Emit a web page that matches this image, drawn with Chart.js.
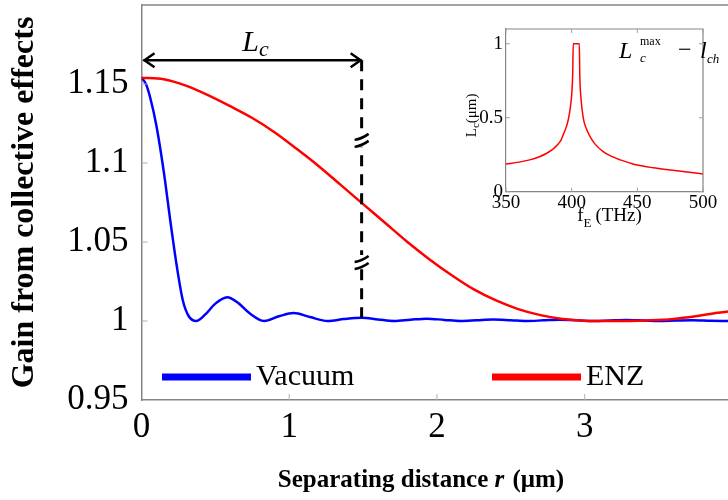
<!DOCTYPE html>
<html><head><meta charset="utf-8">
<script src="https://cdn.jsdelivr.net/npm/chart.js@4.4.0/dist/chart.umd.min.js"></script>
<style>
html,body{margin:0;padding:0;background:#fff;}
#wrap{position:relative;width:728px;height:500px;overflow:hidden;background:#fff;}
#main{position:absolute;left:0;top:0;}
#inset{position:absolute;left:455px;top:22px;}
</style></head><body>
<div id="wrap"><canvas id="main" width="728" height="500"></canvas><canvas id="inset" width="273" height="205"></canvas></div>
<script>
// ---- main plot data ----
const vacuumR    = [0, 0.03, 0.06, 0.1, 0.15, 0.2, 0.24, 0.28, 0.32, 0.37, 0.43, 0.5, 0.58, 0.66, 0.73, 0.83, 0.93, 1.03, 1.14, 1.26, 1.37, 1.49, 1.6, 1.71, 1.82, 1.93, 2.05, 2.16, 2.27, 2.38, 2.5, 2.61, 2.72, 2.83, 2.95, 3.06, 3.17, 3.28, 3.4, 3.5, 3.62, 3.73, 3.85, 3.97];
const vacuumGain = [1.154, 1.150, 1.141, 1.124, 1.095, 1.060, 1.034, 1.013, 1.003, 1.000, 1.004, 1.011, 1.015, 1.011, 1.005, 1.000, 1.003, 1.005, 1.0025, 1.000, 1.0012, 1.002, 1.001, 1.000, 1.0008, 1.0015, 1.0007, 1.000, 1.0005, 1.001, 1.0005, 1.000, 1.0004, 1.0008, 1.0004, 1.000, 1.0003, 1.0006, 1.0003, 1.000, 1.0003, 1.0005, 1.0002, 1.000];
const enzR    = [0, 0.15, 0.3, 0.45, 0.6, 0.75, 0.9, 1.05, 1.2, 1.35, 1.5, 1.65, 1.8, 1.95, 2.1, 2.25, 2.4, 2.55, 2.7, 2.85, 3.0, 3.15, 3.3, 3.45, 3.6, 3.75, 3.9, 3.97];
const enzGain = [1.154, 1.153, 1.149, 1.143, 1.136, 1.1285, 1.1195, 1.109, 1.098, 1.086, 1.074, 1.062, 1.050, 1.039, 1.029, 1.020, 1.013, 1.0075, 1.0037, 1.0013, 1.0002, 1.0, 1.0, 1.0004, 1.0013, 1.003, 1.0052, 1.006];
const xTicks = [0, 1, 2, 3];
const yTicks = [0.95, 1, 1.05, 1.1, 1.15];
const seriesNames = ['Vacuum', 'ENZ'];
const lcR = 1.49;          // L_c arrow end
const lcArrowGain = 1.165; // arrow height
const lcDashEnd = 1.002;   // dashed line bottom
const breakGains = [1.114, 1.0367];

// ---- inset data ----
const insetFreq = [350, 360, 368, 375, 381, 386, 389, 392, 394, 396, 397.5, 399, 400.1, 400.8, 401.2, 405.8, 406.2, 407, 409, 411, 414, 418, 424, 430, 437, 444, 450, 462, 475, 488, 500];
const insetLc   = [0.187, 0.2, 0.215, 0.235, 0.26, 0.29, 0.315, 0.35, 0.395, 0.44, 0.49, 0.57, 0.666, 0.8, 1.0, 1.0, 0.78, 0.64, 0.49, 0.43, 0.372, 0.32, 0.271, 0.24, 0.215, 0.195, 0.18, 0.162, 0.147, 0.133, 0.12];
const insetXTicks = [350, 400, 450, 500];
const insetYTicks = [0, 0.5, 1];

const SERIF = "'Liberation Serif', 'DejaVu Serif', serif";
const AXIS_GRAY = '#858585';

function drawRich(ctx, parts, x, y, align) {
  let w = 0;
  parts.forEach(p => { ctx.font = p.font; p.w = ctx.measureText(p.t).width; w += p.w + (p.gap || 0); });
  let cx = align === 'center' ? x - w / 2 : (align === 'right' ? x - w : x);
  ctx.textAlign = 'left';
  ctx.textBaseline = 'alphabetic';
  parts.forEach(p => { ctx.font = p.font; ctx.fillText(p.t, cx, y + (p.dy || 0)); cx += p.w + (p.gap || 0); });
}

function noPad(s) { s.paddingTop = 0; s.paddingBottom = 0; s.paddingLeft = 0; s.paddingRight = 0; }

const mainDecor = {
  id: 'mainDecor',
  afterDatasetsDraw(chart) {
    const ctx = chart.ctx, a = chart.chartArea, xs = chart.scales.x, ys = chart.scales.y;
    ctx.save();
    // top frame line
    ctx.strokeStyle = AXIS_GRAY; ctx.lineWidth = 1.5;
    ctx.beginPath(); ctx.moveTo(a.left, a.top); ctx.lineTo(a.right, a.top); ctx.stroke();
    // inward ticks
    ctx.strokeStyle = '#b0b0b0'; ctx.lineWidth = 1;
    ctx.beginPath();
    xTicks.forEach(v => { const px = xs.getPixelForValue(v); if (v !== 0) { ctx.moveTo(px, a.bottom); ctx.lineTo(px, a.bottom - 6); } });
    yTicks.forEach(v => { const py = ys.getPixelForValue(v); if (v !== 0.95) { ctx.moveTo(a.left, py); ctx.lineTo(a.left + 6, py); } });
    ctx.stroke();

    // L_c arrow
    const x0 = xs.getPixelForValue(0) + 2, x1 = xs.getPixelForValue(lcR), ya = ys.getPixelForValue(lcArrowGain);
    ctx.strokeStyle = '#000'; ctx.lineWidth = 2.5; ctx.lineCap = 'butt';
    ctx.beginPath(); ctx.moveTo(x0, ya); ctx.lineTo(x1, ya); ctx.stroke();
    ctx.beginPath();
    ctx.moveTo(x0 + 11, ya - 7); ctx.lineTo(x0 + 1, ya); ctx.lineTo(x0 + 11, ya + 7);
    ctx.moveTo(x1 - 11, ya - 7); ctx.lineTo(x1 - 1, ya); ctx.lineTo(x1 - 11, ya + 7);
    ctx.stroke();
    // dashed line
    ctx.setLineDash([11, 8]); ctx.lineWidth = 3;
    ctx.beginPath(); ctx.moveTo(x1, ya); ctx.lineTo(x1, ys.getPixelForValue(lcDashEnd)); ctx.stroke();
    ctx.setLineDash([]);
    // break marks
    ctx.lineWidth = 2.5;
    breakGains.forEach(g => {
      const yb = ys.getPixelForValue(g);
      ctx.fillStyle = '#fff'; ctx.fillRect(x1 - 3, yb - 8, 6, 14);
      ctx.beginPath();
      ctx.moveTo(x1 - 7, yb - 1); ctx.quadraticCurveTo(x1, yb - 2, x1 + 7, yb - 7);
      ctx.moveTo(x1 - 7, yb + 6); ctx.quadraticCurveTo(x1, yb + 5, x1 + 7, yb);
      ctx.stroke();
    });
    // L_c label
    ctx.fillStyle = '#000';
    drawRich(ctx, [
      { t: 'L', font: 'italic 30px ' + SERIF },
      { t: 'c', font: 'italic 22px ' + SERIF, dy: 5 }
    ], (x0 + x1) / 2 + 3, ya - 9, 'center');

    // legend inside plot
    const ly = a.bottom - 23;
    const items = [
      { name: seriesNames[0], color: '#0000ff', x: a.left + 20.5 },
      { name: seriesNames[1], color: '#ff0000', x: a.left + 350.5 }
    ];
    items.forEach(it => {
      ctx.strokeStyle = it.color; ctx.lineWidth = 7;
      ctx.beginPath(); ctx.moveTo(it.x, ly); ctx.lineTo(it.x + 89, ly); ctx.stroke();
      ctx.fillStyle = '#000'; ctx.font = '30px ' + SERIF;
      ctx.textAlign = 'left'; ctx.textBaseline = 'middle';
      ctx.fillText(it.name, it.x + 94, ly);
    });

    // x-axis title with italic r
    ctx.fillStyle = '#000';
    drawRich(ctx, [
      { t: 'Separating distance ', font: 'bold 25px ' + SERIF },
      { t: 'r', font: 'italic bold 25px ' + SERIF, gap: 2 },
      { t: ' (μm)', font: 'bold 25px ' + SERIF }
    ], 421, 487, 'center');
    ctx.restore();
  }
};

const mainChart = new Chart(document.getElementById('main'), {
  type: 'line',
  data: {
    datasets: [
      { label: seriesNames[1], data: enzR.map((r, i) => ({ x: r, y: enzGain[i] })), borderColor: '#ff0000', borderWidth: 2.5, pointRadius: 0, cubicInterpolationMode: 'monotone', fill: false, order: 0 },
      { label: seriesNames[0], data: vacuumR.map((r, i) => ({ x: r, y: vacuumGain[i] })), borderColor: '#0000ff', borderWidth: 2.5, pointRadius: 0, cubicInterpolationMode: 'monotone', fill: false, order: 1 }
    ]
  },
  options: {
    responsive: false, animation: false, devicePixelRatio: 1,
    layout: { padding: { top: 5, right: 0, left: 0, bottom: 0 } },
    plugins: { legend: { display: false }, tooltip: { enabled: false } },
    scales: {
      x: {
        type: 'linear', min: 0, max: 3.97,
        afterBuildTicks: s => { s.ticks = xTicks.map(v => ({ value: v })); },
        afterFit: s => { s.height = 100; noPad(s); },
        ticks: { font: { family: SERIF, size: 35 }, color: '#000', padding: 7, maxRotation: 0, autoSkip: false, callback: v => String(v) },
        grid: { display: true, drawOnChartArea: false, drawTicks: false },
        border: { color: AXIS_GRAY, width: 1.5 },
        title: { display: false, text: 'Separating distance r (μm)' }
      },
      y: {
        type: 'linear', min: 0.95, max: 1.2,
        afterBuildTicks: s => { s.ticks = yTicks.map(v => ({ value: v })); },
        afterFit: s => { s.width = 141.5; noPad(s); },
        ticks: { font: { family: SERIF, size: 35 }, color: '#000', padding: 13, autoSkip: false, callback: v => String(+Number(v).toFixed(2)) },
        grid: { display: true, drawOnChartArea: false, drawTicks: false },
        border: { color: AXIS_GRAY, width: 1.5 },
        title: { display: true, text: 'Gain from collective effects', font: { family: SERIF, size: 32, weight: 'bold' }, color: '#000', padding: { top: 6, bottom: 0 } }
      }
    }
  },
  plugins: [mainDecor]
});

const insetDecor = {
  id: 'insetDecor',
  afterDatasetsDraw(chart) {
    const ctx = chart.ctx, a = chart.chartArea, xs = chart.scales.x, ys = chart.scales.y;
    ctx.save();
    ctx.strokeStyle = AXIS_GRAY; ctx.lineWidth = 1.2;
    ctx.beginPath();
    ctx.moveTo(a.left, a.top); ctx.lineTo(a.right, a.top); ctx.lineTo(a.right, a.bottom);
    ctx.stroke();
    ctx.strokeStyle = '#a0a0a0'; ctx.lineWidth = 1;
    ctx.beginPath();
    insetXTicks.forEach(v => { const px = xs.getPixelForValue(v); ctx.moveTo(px, a.bottom); ctx.lineTo(px, a.bottom - 4); ctx.moveTo(px, a.top); ctx.lineTo(px, a.top + 4); });
    insetYTicks.forEach(v => { const py = ys.getPixelForValue(v); ctx.moveTo(a.left, py); ctx.lineTo(a.left + 4, py); ctx.moveTo(a.right, py); ctx.lineTo(a.right - 4, py); });
    ctx.stroke();
    ctx.fillStyle = '#000';
    // x title f_E (THz)
    drawRich(ctx, [
      { t: 'f', font: '19px ' + SERIF },
      { t: 'E', font: '13px ' + SERIF, dy: 6, gap: 4 },
      { t: '(THz)', font: '19px ' + SERIF }
    ], (a.left + a.right) / 2 + 5, a.bottom + 29, 'center');
    // y title L_c (μm)
    ctx.save();
    ctx.translate(16, (a.top + a.bottom) / 2 + 5);
    ctx.rotate(-Math.PI / 2);
    drawRich(ctx, [
      { t: 'L', font: '15px ' + SERIF },
      { t: 'c', font: '11px ' + SERIF, dy: 3 },
      { t: '(μm)', font: '15px ' + SERIF }
    ], 0, 5, 'center');
    ctx.restore();
    // annotation L_c^max - l_ch
    const bx = a.right - 84, by = a.top + 29;
    ctx.textAlign = 'left'; ctx.textBaseline = 'alphabetic';
    ctx.font = 'italic 24px ' + SERIF; ctx.fillText('L', bx, by);
    ctx.font = '12px ' + SERIF; ctx.fillText('max', bx + 21, by - 13);
    ctx.font = 'italic 13px ' + SERIF; ctx.fillText('c', bx + 21, by + 4);
    ctx.font = '24px ' + SERIF; ctx.fillText('\u2212', bx + 59, by - 1);
    ctx.font = 'italic 24px ' + SERIF; ctx.fillText('l', bx + 81, by);
    ctx.font = 'italic 13px ' + SERIF; ctx.fillText('ch', bx + 88, by + 5);
    ctx.restore();
  }
};

const insetChart = new Chart(document.getElementById('inset'), {
  type: 'line',
  data: {
    datasets: [
      { label: 'Lc', data: insetFreq.map((f, i) => ({ x: f, y: insetLc[i] })), borderColor: '#ff0000', borderWidth: 1.5, pointRadius: 0, cubicInterpolationMode: 'monotone', fill: false }
    ]
  },
  options: {
    responsive: false, animation: false, devicePixelRatio: 1,
    layout: { padding: { top: 7, right: 25, left: 0, bottom: 0 } },
    plugins: { legend: { display: false }, tooltip: { enabled: false } },
    scales: {
      x: {
        type: 'linear', min: 350, max: 500,
        afterBuildTicks: s => { s.ticks = insetXTicks.map(v => ({ value: v })); },
        afterFit: s => { s.height = 35.3; noPad(s); },
        ticks: { font: { family: SERIF, size: 19 }, color: '#000', padding: 0, maxRotation: 0, autoSkip: false, callback: v => String(v) },
        grid: { display: true, drawOnChartArea: false, drawTicks: false },
        border: { color: AXIS_GRAY, width: 1.2 }
      },
      y: {
        type: 'linear', min: 0, max: 1.1,
        afterBuildTicks: s => { s.ticks = insetYTicks.map(v => ({ value: v })); },
        afterFit: s => { s.width = 51; noPad(s); },
        ticks: { font: { family: SERIF, size: 19 }, color: '#000', padding: 3, autoSkip: false, callback: v => String(v) },
        grid: { display: true, drawOnChartArea: false, drawTicks: false },
        border: { color: AXIS_GRAY, width: 1.2 }
      }
    }
  },
  plugins: [insetDecor]
});
</script>
</body></html>
